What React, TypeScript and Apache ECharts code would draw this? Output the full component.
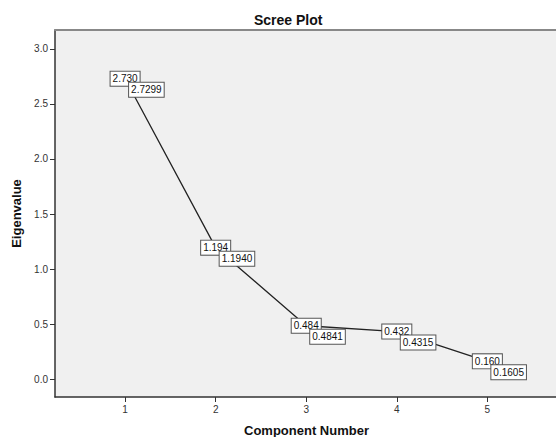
import React, { useEffect, useRef } from "react";
import * as echarts from "echarts";

const components = [1, 2, 3, 4, 5];
const eigenvalues = [2.7299, 1.194, 0.4841, 0.4315, 0.1605];
const shortLabels = ["2.730", "1.194", "0.484", "0.432", "0.160"];
const longLabels = ["2.7299", "1.1940", "0.4841", "0.4315", "0.1605"];
const yTicks = [0, 0.5, 1, 1.5, 2, 2.5, 3];

const FONT = "'Liberation Sans', Arial, sans-serif";

export default function App() {
  const ref = useRef<HTMLDivElement>(null);
  useEffect(() => {
    document.body.style.margin = "0";
    if (!ref.current) return;
    const chart = echarts.init(ref.current, undefined, { renderer: "svg" });
    const data = components.map((c, i) => [c, eigenvalues[i]]);
    const boxStyle = {
      show: true,
      fontSize: 10,
      lineHeight: 12,
      fontFamily: FONT,
      color: "#111",
      backgroundColor: "#ffffff",
      borderColor: "#555",
      borderWidth: 1,
      padding: [1, 2, 1, 2],
    };
    chart.setOption({
      animation: false,
      backgroundColor: "#ffffff",
      title: {
        text: "Scree Plot",
        left: 249,
        top: 8,
        textStyle: { fontSize: 14, fontWeight: "bold", fontFamily: FONT, color: "#111" },
      },
      grid: {
        left: 55,
        top: 30,
        right: -2,
        bottom: 40,
        show: true,
        backgroundColor: "#f0f0f0",
        borderWidth: 0,
        outerBoundsMode: "none",
        containLabel: false,
      },
      xAxis: [
        {
          type: "value",
          min: 0.226,
          max: 5.78,
          name: "Component Number",
          nameLocation: "middle",
          nameGap: 27,
          nameTextStyle: { fontSize: 13, fontWeight: "bold", fontFamily: FONT, color: "#111" },
          axisLine: { show: true, onZero: false, lineStyle: { color: "#333", width: 1.5 } },
          axisTick: { show: true, length: 5, customValues: components, lineStyle: { color: "#333" } },
          axisLabel: {
            customValues: components,
            margin: 7,
            fontSize: 10,
            fontFamily: FONT,
            color: "#333",
          },
          splitLine: { show: false },
        },
        {
          type: "value",
          position: "top",
          min: 0.226,
          max: 5.78,
          axisLine: { show: true, onZero: false, lineStyle: { color: "#888", width: 2 } },
          axisTick: { show: false },
          axisLabel: { show: false },
          splitLine: { show: false },
        },
      ],
      yAxis: {
        type: "value",
        min: -0.1636,
        max: 3.1727,
        name: "Eigenvalue",
        nameLocation: "middle",
        nameGap: 26,
        nameTextStyle: { fontSize: 13, fontWeight: "bold", fontFamily: FONT, color: "#111" },
        axisLine: { show: true, onZero: false, lineStyle: { color: "#333", width: 1.5 } },
        axisTick: { show: true, length: 5, customValues: yTicks, lineStyle: { color: "#333" } },
        axisLabel: {
          customValues: yTicks,
          margin: 7,
          fontSize: 10,
          fontFamily: FONT,
          color: "#333",
          formatter: (v: number) => v.toFixed(1),
        },
        splitLine: { show: false },
      },
      series: [
        {
          type: "line",
          data,
          symbol: "circle",
          symbolSize: 1,
          itemStyle: { color: "transparent" },
          lineStyle: { color: "#222", width: 1.3 },
          label: {
            ...boxStyle,
            position: "inside",
            formatter: (p: any) => shortLabels[p.dataIndex],
          },
        },
        {
          type: "line",
          data,
          symbol: "circle",
          symbolSize: 1,
          itemStyle: { color: "transparent" },
          lineStyle: { opacity: 0, width: 0 },
          label: {
            ...boxStyle,
            position: [4.5, 4.5],
            align: "left",
            verticalAlign: "top",
            formatter: (p: any) => longLabels[p.dataIndex],
          },
        },
      ],
    });
    return () => chart.dispose();
  }, []);
  return <div ref={ref} style={{ width: 556, height: 437 }} />;
}
